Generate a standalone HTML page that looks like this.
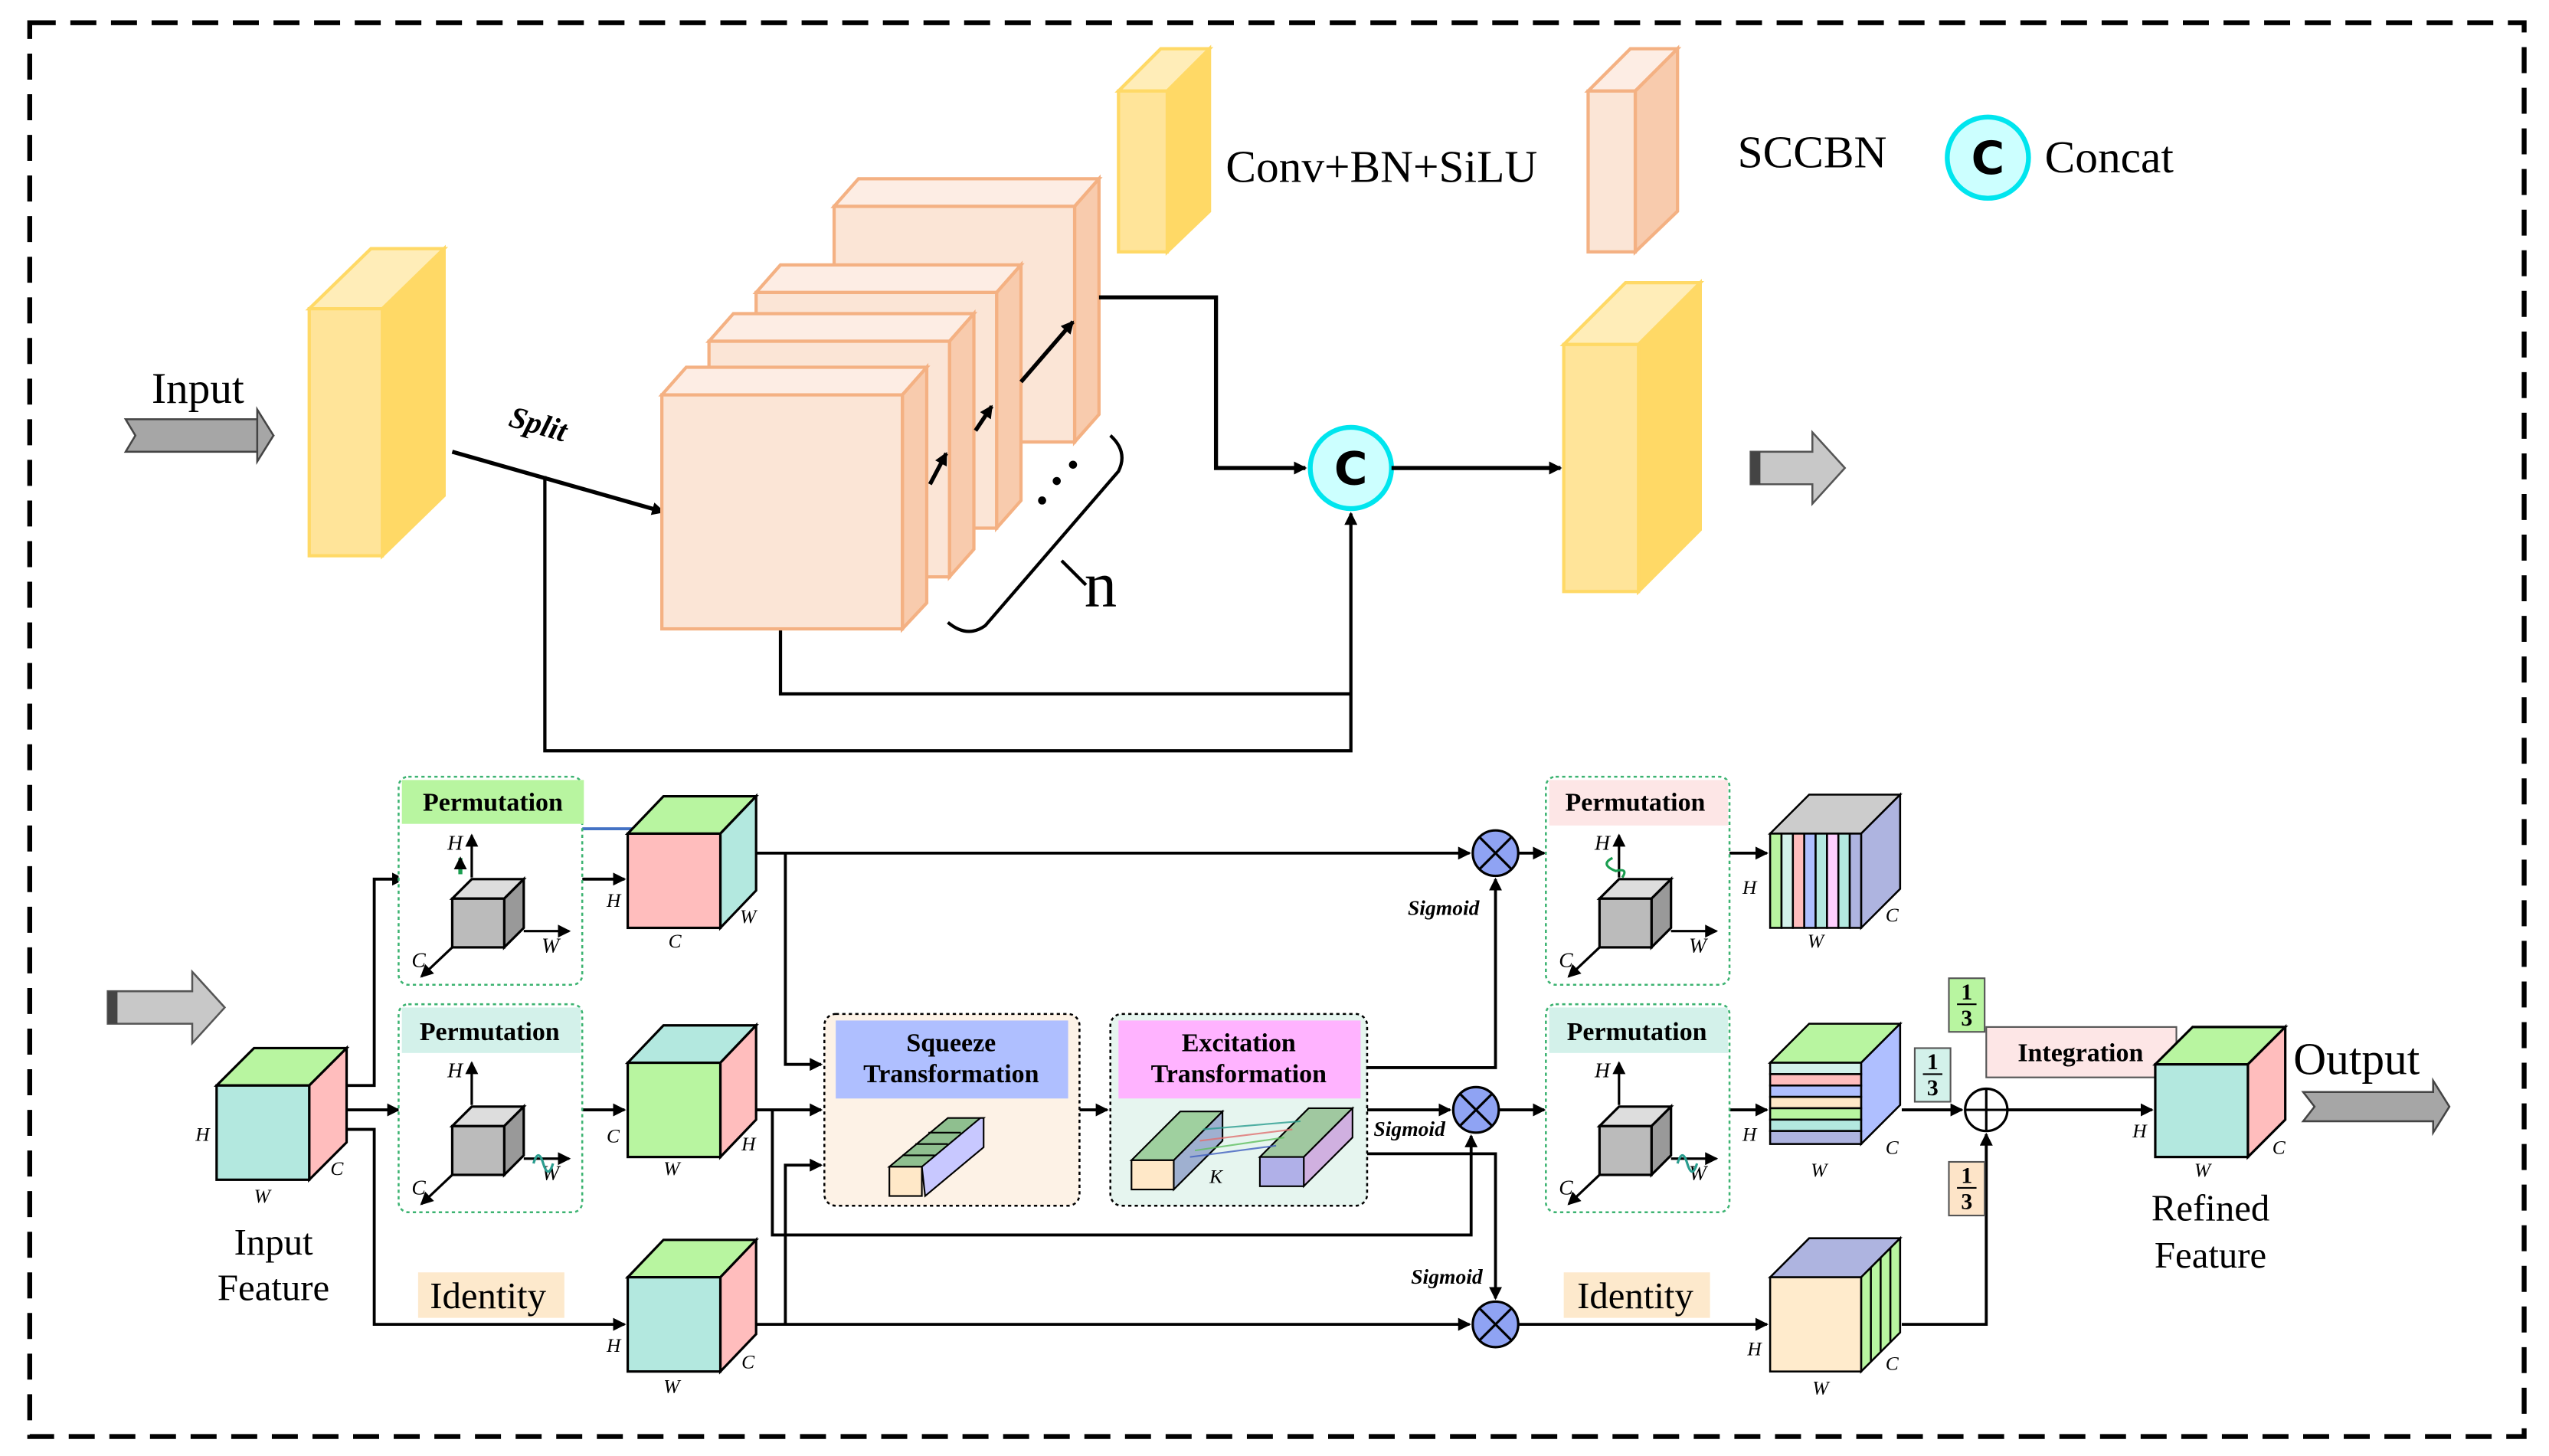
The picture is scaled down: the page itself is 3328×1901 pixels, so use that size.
<!DOCTYPE html>
<html><head><meta charset="utf-8"><style>html,body{margin:0;padding:0;background:#fff}svg{display:block}</style></head>
<body>
<svg width="3328" height="1901" viewBox="0 0 1568 896" xmlns="http://www.w3.org/2000/svg" font-family="Liberation Serif, serif">
<defs>
<marker id="ar" markerWidth="8" markerHeight="8" refX="7" refY="4" orient="auto" markerUnits="userSpaceOnUse"><path d="M0,0 L8,4 L0,8 Z" fill="#000"/></marker>
<marker id="arb" markerWidth="10" markerHeight="8" refX="9" refY="4" orient="auto" markerUnits="userSpaceOnUse"><path d="M0,0 L10,4 L0,8 Z" fill="#4472C4"/></marker>
<g id="ax">
 <line x1="45" y1="62" x2="45" y2="36" stroke="#000" stroke-width="1.5" marker-end="url(#ar)"/>
 <line x1="77" y1="95" x2="105" y2="95" stroke="#000" stroke-width="1.5" marker-end="url(#ar)"/>
 <line x1="33" y1="105" x2="14" y2="123" stroke="#000" stroke-width="1.5" marker-end="url(#ar)"/>
 <polygon points="33,75 45,63 77,63 65,75" fill="#ddd" stroke="#000" stroke-width="1.5"/>
 <polygon points="65,75 77,63 77,93 65,105" fill="#999" stroke="#000" stroke-width="1.5"/>
 <rect x="33" y="75" width="32" height="30" fill="#bbb" stroke="#000" stroke-width="1.5"/>
 <text x="30" y="45" font-size="13" font-style="italic">H</text>
 <text x="88" y="108" font-size="13" font-style="italic">W</text>
 <text x="8" y="117" font-size="13" font-style="italic">C</text>
</g>
<g id="xo"><circle r="14" fill="#8FA3F3" stroke="#000" stroke-width="1.5"/><line x1="-10" y1="-10" x2="10" y2="10" stroke="#000" stroke-width="1.5"/><line x1="-10" y1="10" x2="10" y2="-10" stroke="#000" stroke-width="1.5"/></g>
</defs>

<rect x="18" y="14" width="1535" height="870" fill="none" stroke="#000" stroke-width="3" stroke-dasharray="16,9"/>

<!-- TOP -->
<polygon points="77,258 158,258 168,268 158,278 77,278 83,268" fill="#A6A6A6" stroke="#444" stroke-width="1.2"/>
<polygon points="158,252 168,268 158,284" fill="#A6A6A6" stroke="#444" stroke-width="1.2"/>
<text x="93" y="248" font-size="27">Input</text>

<!-- input cube -->
<polygon points="190,190 228,153 273,153 235,190" fill="#FFEDB8" stroke="#FFD966" stroke-width="2"/>
<polygon points="235,190 273,153 273,305 235,342" fill="#FFD966" stroke="#FFD966" stroke-width="2"/>
<rect x="190" y="190" width="45" height="152" fill="#FFE499" stroke="#FFD966" stroke-width="2"/>

<line x1="278" y1="278" x2="408" y2="315" stroke="#000" stroke-width="2.5" marker-end="url(#ar)"/>
<text x="312" y="262" font-size="19" font-weight="bold" font-style="italic" transform="rotate(16 312 262)">Split</text>
<polyline points="335,293 335,462 831,462 831,316" fill="none" stroke="#000" stroke-width="2" marker-end="url(#ar)"/>
<polyline points="480,387 480,427 831,427" fill="none" stroke="#000" stroke-width="2"/>

<!-- salmon cubes back to front -->
<g stroke="#F4B183" stroke-width="2">
 <polygon points="513,127 528,110 676,110 661,127" fill="#FDEDE4"/><polygon points="661,127 676,110 676,255 661,272" fill="#F8CBAD"/><rect x="513" y="127" width="148" height="145" fill="#FBE5D6"/>
 <polygon points="465,180 480,163 628,163 613,180" fill="#FDEDE4"/><polygon points="613,180 628,163 628,308 613,325" fill="#F8CBAD"/><rect x="465" y="180" width="148" height="145" fill="#FBE5D6"/>
 <polygon points="436,210 451,193 599,193 584,210" fill="#FDEDE4"/><polygon points="584,210 599,193 599,338 584,355" fill="#F8CBAD"/><rect x="436" y="210" width="148" height="145" fill="#FBE5D6"/>
 <polygon points="407,243 422,226 570,226 555,243" fill="#FDEDE4"/><polygon points="555,243 570,226 570,371 555,387" fill="#F8CBAD"/><rect x="407" y="243" width="148" height="144" fill="#FBE5D6"/>
</g>
<line x1="572" y1="298" x2="582" y2="279" stroke="#000" stroke-width="2.5" marker-end="url(#ar)"/>
<line x1="600" y1="265" x2="610" y2="250" stroke="#000" stroke-width="2.5" marker-end="url(#ar)"/>
<line x1="628" y1="235" x2="660" y2="198" stroke="#000" stroke-width="2.5" marker-end="url(#ar)"/>
<circle cx="641" cy="308" r="2.5"/><circle cx="650" cy="296" r="2.5"/><circle cx="660" cy="286" r="2.5"/>
<path d="M583,383 Q595,393 606,385 L688,290 Q694,278 683,268" fill="none" stroke="#000" stroke-width="2"/>
<line x1="653" y1="345" x2="668" y2="360" stroke="#000" stroke-width="2"/>
<text x="667" y="373" font-size="40">n</text>

<polyline points="676,183 748,183 748,288 803,288" fill="none" stroke="#000" stroke-width="2.5" marker-end="url(#ar)"/>
<circle cx="831" cy="288" r="25" fill="#CCFFFF" stroke="#00E5EE" stroke-width="3"/>
<text x="831" y="298" font-size="28" font-weight="bold" text-anchor="middle" font-family="DejaVu Sans, sans-serif">C</text>
<line x1="856" y1="288" x2="960" y2="288" stroke="#000" stroke-width="2.5" marker-end="url(#ar)"/>

<polygon points="962,212 1000,174 1046,174 1008,212" fill="#FFEDB8" stroke="#FFD966" stroke-width="2"/>
<polygon points="1008,212 1046,174 1046,326 1008,364" fill="#FFD966" stroke="#FFD966" stroke-width="2"/>
<rect x="962" y="212" width="46" height="152" fill="#FFE499" stroke="#FFD966" stroke-width="2"/>

<polygon points="1077,278 1115,278 1115,266 1135,288 1115,310 1115,298 1077,298" fill="#C8C8C8" stroke="#555" stroke-width="1.2"/>
<rect x="1077" y="278" width="6" height="20" fill="#444"/>

<!-- legend -->
<polygon points="688,56 714,30 744,30 718,56" fill="#FFEDB8" stroke="#FFD966" stroke-width="2"/>
<polygon points="718,56 744,30 744,130 718,155" fill="#FFD966" stroke="#FFD966" stroke-width="2"/>
<rect x="688" y="56" width="30" height="99" fill="#FFE499" stroke="#FFD966" stroke-width="2"/>
<text x="754" y="112" font-size="28">Conv+BN+SiLU</text>
<polygon points="977,56 1003,30 1032,30 1006,56" fill="#FDEDE4" stroke="#F4B183" stroke-width="2"/>
<polygon points="1006,56 1032,30 1032,130 1006,155" fill="#F8CBAD" stroke="#F4B183" stroke-width="2"/>
<rect x="977" y="56" width="29" height="99" fill="#FBE5D6" stroke="#F4B183" stroke-width="2"/>
<text x="1069" y="103" font-size="28">SCCBN</text>
<circle cx="1223" cy="97" r="25" fill="#CCFFFF" stroke="#00E5EE" stroke-width="3"/>
<text x="1223" y="107" font-size="28" font-weight="bold" text-anchor="middle" font-family="DejaVu Sans, sans-serif">C</text>
<text x="1258" y="106" font-size="28">Concat</text>

<!-- BOTTOM -->
<polygon points="66,610 118,610 118,598 138,620 118,642 118,630 66,630" fill="#C8C8C8" stroke="#555" stroke-width="1.2"/>
<rect x="66" y="610" width="6" height="20" fill="#444"/>

<!-- input feature cube -->
<g stroke="#000" stroke-width="1.5">
<polygon points="133,668 156,645 213,645 190,668" fill="#B8F5A0"/>
<polygon points="190,668 213,645 213,703 190,726" fill="#FFBDBD"/>
<rect x="133" y="668" width="57" height="58" fill="#B3E8DF"/>
</g>
<g font-size="12" font-style="italic"><text x="120" y="702">H</text><text x="156" y="740">W</text><text x="203" y="723">C</text></g>
<text x="168" y="772" font-size="23" text-anchor="middle">Input</text>
<text x="168" y="800" font-size="23" text-anchor="middle">Feature</text>

<g fill="none" stroke="#000" stroke-width="1.8">
<polyline points="213,668 230,668 230,541 248,541" marker-end="url(#ar)"/>
<line x1="213" y1="683" x2="245" y2="683" marker-end="url(#ar)"/>
<polyline points="213,695 230,695 230,815 384,815" marker-end="url(#ar)"/>
<line x1="358" y1="541" x2="384" y2="541" marker-end="url(#ar)"/>
<line x1="358" y1="683" x2="384" y2="683" marker-end="url(#ar)"/>
<line x1="465" y1="525" x2="904" y2="525" marker-end="url(#ar)"/>
<polyline points="483,525 483,655 505,655" marker-end="url(#ar)"/>
<line x1="465" y1="683" x2="505" y2="683" marker-end="url(#ar)"/>
<polyline points="475,683 475,760 905,760 905,699" marker-end="url(#ar)"/>
<line x1="465" y1="815" x2="904" y2="815" marker-end="url(#ar)"/>
<polyline points="483,815 483,717 505,717" marker-end="url(#ar)"/>
<line x1="664" y1="683" x2="681" y2="683" marker-end="url(#ar)"/>
<polyline points="841,657 920,657 920,541" marker-end="url(#ar)"/>
<line x1="841" y1="683" x2="892" y2="683" marker-end="url(#ar)"/>
<polyline points="841,710 920,710 920,799" marker-end="url(#ar)"/>
<line x1="934" y1="525" x2="950" y2="525" marker-end="url(#ar)"/>
<line x1="922" y1="683" x2="950" y2="683" marker-end="url(#ar)"/>
<line x1="934" y1="815" x2="1087" y2="815" marker-end="url(#ar)"/>
<line x1="1064" y1="525" x2="1087" y2="525" marker-end="url(#ar)"/>
<line x1="1064" y1="683" x2="1087" y2="683" marker-end="url(#ar)"/>
<line x1="1170" y1="683" x2="1207" y2="683" marker-end="url(#ar)"/>
<polyline points="1170,815 1222,815 1222,698" marker-end="url(#ar)"/>
<line x1="1235" y1="683" x2="1324" y2="683" marker-end="url(#ar)"/>
</g>
<line x1="358" y1="510" x2="413" y2="510" stroke="#4472C4" stroke-width="1.8" marker-end="url(#arb)"/>

<!-- permutation boxes -->
<g font-size="16" font-weight="bold" text-anchor="middle">
<rect x="245" y="478" width="113" height="128" rx="6" fill="#fff" stroke="#3CB371" stroke-width="1.2" stroke-dasharray="2,2"/>
<rect x="247" y="480" width="112" height="27" fill="#B8F5A0"/><text x="303" y="499">Permutation</text>
<rect x="245" y="618" width="113" height="128" rx="6" fill="#fff" stroke="#3CB371" stroke-width="1.2" stroke-dasharray="2,2"/>
<rect x="247" y="620" width="110" height="28" fill="#D3F1EA"/><text x="301" y="640">Permutation</text>
<rect x="951" y="478" width="113" height="128" rx="6" fill="#fff" stroke="#3CB371" stroke-width="1.2" stroke-dasharray="2,2"/>
<rect x="953" y="480" width="110" height="28" fill="#FDE6E6"/><text x="1006" y="499">Permutation</text>
<rect x="951" y="618" width="113" height="128" rx="6" fill="#fff" stroke="#3CB371" stroke-width="1.2" stroke-dasharray="2,2"/>
<rect x="953" y="620" width="110" height="28" fill="#D3F1EA"/><text x="1007" y="640">Permutation</text>
</g>
<use href="#ax" x="245" y="478"/><use href="#ax" x="245" y="618"/><use href="#ax" x="951" y="478"/><use href="#ax" x="951" y="618"/>
<path d="M283,538 L283,528" stroke="#1a9e50" stroke-width="2.5" marker-end="url(#ar)"/>
<path d="M328,716 q3,-10 6,0 q3,10 6,0" fill="none" stroke="#2a9d8f" stroke-width="1.5"/>
<path d="M992,528 q-8,4 2,8 q8,-2 4,4" fill="none" stroke="#1a9e50" stroke-width="1.5"/>
<path d="M1032,716 q3,-10 6,0 q3,10 6,0" fill="none" stroke="#2a9d8f" stroke-width="1.5"/>

<!-- mid cubes -->
<g stroke="#000" stroke-width="1.5">
<polygon points="386,513 408,490 465,490 443,513" fill="#B8F5A0"/><polygon points="443,513 465,490 465,548 443,571" fill="#B3E8DF"/><rect x="386" y="513" width="57" height="58" fill="#FFBDBD"/>
<polygon points="386,654 408,631 465,631 443,654" fill="#B3E8DF"/><polygon points="443,654 465,631 465,689 443,712" fill="#FFBDBD"/><rect x="386" y="654" width="57" height="58" fill="#B8F5A0"/>
<polygon points="386,786 408,763 465,763 443,786" fill="#B8F5A0"/><polygon points="443,786 465,763 465,821 443,844" fill="#FFBDBD"/><rect x="386" y="786" width="57" height="58" fill="#B3E8DF"/>
</g>
<g font-size="12" font-style="italic">
<text x="373" y="558">H</text><text x="411" y="583">C</text><text x="455" y="568">W</text>
<text x="373" y="703">C</text><text x="408" y="723">W</text><text x="456" y="708">H</text>
<text x="373" y="832">H</text><text x="408" y="857">W</text><text x="456" y="842">C</text>
</g>
<rect x="257" y="783" width="90" height="28" fill="#FDE9CC"/><text x="300" y="805" font-size="23" text-anchor="middle">Identity</text>
<rect x="962" y="783" width="90" height="28" fill="#FDE9CC"/><text x="1006" y="805" font-size="23" text-anchor="middle">Identity</text>

<!-- squeeze / excitation -->
<rect x="507" y="624" width="157" height="118" rx="7" fill="#FDF2E6" stroke="#000" stroke-width="1.2" stroke-dasharray="2,2"/>
<rect x="514" y="628" width="143" height="48" fill="#AFBFFF"/>
<rect x="683" y="624" width="158" height="118" rx="7" fill="#E6F5EF" stroke="#000" stroke-width="1.2" stroke-dasharray="2,2"/>
<rect x="688" y="628" width="149" height="48" fill="#FFB3FF"/>
<g font-size="16" font-weight="bold" text-anchor="middle">
<text x="585" y="647">Squeeze</text><text x="585" y="666">Transformation</text>
<text x="762" y="647">Excitation</text><text x="762" y="666">Transformation</text>
</g>
<g stroke="#000" stroke-width="1">
<polygon points="547,718 583,688 605,688 569,718" fill="#8fbf8f"/>
<polygon points="567,718 603,688 605,688 605,706 569,736" fill="#c8c8ff"/>
<rect x="547" y="718" width="20" height="18" fill="#FFE8C8"/>
<line x1="555" y1="711" x2="575" y2="711"/><line x1="563" y1="704" x2="583" y2="704"/><line x1="571" y1="697" x2="591" y2="697"/>
<polygon points="696,714 726,684 752,684 722,714" fill="#9fd09f"/>
<polygon points="722,714 752,684 752,702 722,732" fill="#9fb0d0"/>
<rect x="696" y="714" width="26" height="18" fill="#FFE8C8"/>
<polygon points="775,712 805,682 832,682 802,712" fill="#a0c8a0"/>
<polygon points="802,712 832,682 832,700 802,730" fill="#d0b0e0"/>
<rect x="775" y="712" width="27" height="18" fill="#B0B0E8"/>
</g>
<g stroke-width="1" opacity="0.8"><line x1="740" y1="695" x2="800" y2="690" stroke="#2a9d8f"/><line x1="738" y1="702" x2="795" y2="695" stroke="#e07070"/><line x1="735" y1="708" x2="790" y2="700" stroke="#60c060"/><line x1="732" y1="712" x2="785" y2="705" stroke="#4060c0"/></g>
<text x="744" y="728" font-size="12" font-style="italic">K</text>

<!-- xor circles -->
<use href="#xo" x="920" y="525"/><use href="#xo" x="908" y="683"/><use href="#xo" x="920" y="815"/>
<g font-size="13" font-weight="bold" font-style="italic">
<text x="866" y="563">Sigmoid</text><text x="845" y="699">Sigmoid</text><text x="868" y="790">Sigmoid</text>
</g>

<!-- output cubes -->
<g stroke="#000" stroke-width="1.2">
<polygon points="1089,513 1113,489 1169,489 1145,513" fill="#ccc"/>
<polygon points="1145,513 1169,489 1169,547 1145,571" fill="#AEB4E0"/>
<rect x="1089" y="513" width="7" height="58" fill="#B8F5A0"/><rect x="1096" y="513" width="7" height="58" fill="#D3F1EA"/><rect x="1103" y="513" width="7" height="58" fill="#FFBDBD"/><rect x="1110" y="513" width="7" height="58" fill="#AFBFFF"/><rect x="1117" y="513" width="7" height="58" fill="#B3E8DF"/><rect x="1124" y="513" width="7" height="58" fill="#FFD0FF"/><rect x="1131" y="513" width="7" height="58" fill="#B3E8DF"/><rect x="1138" y="513" width="7" height="58" fill="#AEB4E0"/>
<polygon points="1089,654 1113,630 1169,630 1145,654" fill="#B8F5A0"/>
<polygon points="1145,654 1169,630 1169,680 1145,704" fill="#AFBFFF"/>
<rect x="1089" y="654" width="56" height="7" fill="#D3F1EA"/><rect x="1089" y="661" width="56" height="7" fill="#FFBDBD"/><rect x="1089" y="668" width="56" height="7" fill="#AFBFFF"/><rect x="1089" y="675" width="56" height="7" fill="#FFE8C8"/><rect x="1089" y="682" width="56" height="7" fill="#B8F5A0"/><rect x="1089" y="689" width="56" height="7" fill="#B3E8DF"/><rect x="1089" y="696" width="56" height="8" fill="#AEB4E0"/>
<polygon points="1089,786 1113,762 1169,762 1145,786" fill="#AEB4E0"/>
<polygon points="1145,786 1169,762 1169,820 1145,844" fill="#B8F5A0"/>
<rect x="1089" y="786" width="56" height="58" fill="#FFEBCC"/>
<line x1="1151" y1="780" x2="1151" y2="838"/><line x1="1157" y1="774" x2="1157" y2="832"/><line x1="1163" y1="768" x2="1163" y2="826"/>
</g>
<g font-size="12" font-style="italic">
<text x="1072" y="550">H</text><text x="1112" y="583">W</text><text x="1160" y="567">C</text>
<text x="1072" y="702">H</text><text x="1114" y="724">W</text><text x="1160" y="710">C</text>
<text x="1075" y="834">H</text><text x="1115" y="858">W</text><text x="1160" y="843">C</text>
</g>

<!-- 1/3 boxes -->
<g font-size="14" font-weight="bold" text-anchor="middle" stroke="#555" stroke-width="1">
<rect x="1199" y="602" width="22" height="33" fill="#B8F5A0"/>
<rect x="1178" y="645" width="22" height="33" fill="#D3F1EA"/>
<rect x="1199" y="715" width="22" height="33" fill="#FDE4C8"/>
</g>
<g font-size="14" font-weight="bold" text-anchor="middle">
<text x="1210" y="615">1</text><line x1="1204" y1="618" x2="1216" y2="618" stroke="#000"/><text x="1210" y="631">3</text>
<text x="1189" y="658">1</text><line x1="1183" y1="661" x2="1195" y2="661" stroke="#000"/><text x="1189" y="674">3</text>
<text x="1210" y="728">1</text><line x1="1204" y1="731" x2="1216" y2="731" stroke="#000"/><text x="1210" y="744">3</text>
</g>
<circle cx="1222" cy="683" r="13" fill="#fff" stroke="#000" stroke-width="1.5"/>
<line x1="1209" y1="683" x2="1235" y2="683" stroke="#000" stroke-width="1.5"/><line x1="1222" y1="670" x2="1222" y2="696" stroke="#000" stroke-width="1.5"/>
<rect x="1222" y="632" width="117" height="31" fill="#FDE6E6" stroke="#555" stroke-width="1"/>
<text x="1280" y="653" font-size="16" font-weight="bold" text-anchor="middle">Integration</text>

<!-- refined -->
<g stroke="#000" stroke-width="1.5">
<polygon points="1326,655 1349,632 1406,632 1383,655" fill="#B8F5A0"/>
<polygon points="1383,655 1406,632 1406,689 1383,712" fill="#FFBDBD"/>
<rect x="1326" y="655" width="57" height="57" fill="#B3E8DF"/>
</g>
<g font-size="12" font-style="italic"><text x="1312" y="700">H</text><text x="1350" y="724">W</text><text x="1398" y="710">C</text></g>
<text x="1360" y="751" font-size="23" text-anchor="middle">Refined</text>
<text x="1360" y="780" font-size="23" text-anchor="middle">Feature</text>
<text x="1411" y="661" font-size="28">Output</text>
<polygon points="1417,672 1497,672 1497,665 1507,681 1497,697 1497,690 1417,690 1424,681" fill="#A6A6A6" stroke="#444" stroke-width="1.2"/>
</svg>
</body></html>
